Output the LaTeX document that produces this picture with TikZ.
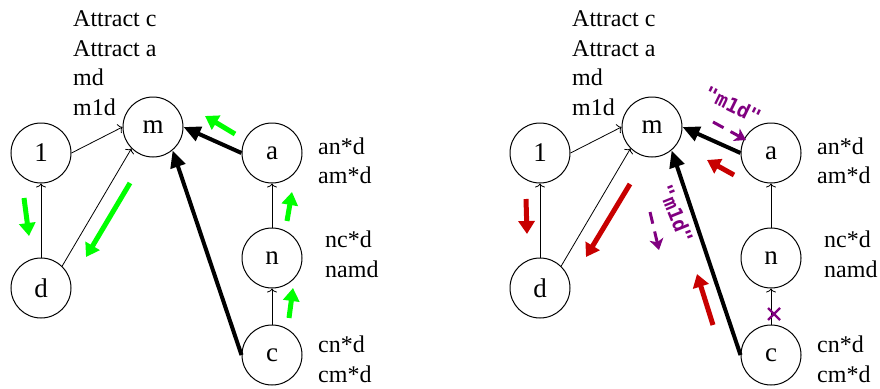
\documentclass[tikz,border=0pt]{standalone}
\usepackage{fontspec}
\setmainfont{Liberation Serif}
\newfontfamily\pmono{DejaVu Sans Mono}
\usetikzlibrary{arrows.meta}
\definecolor{grn}{RGB}{0,255,0}
\definecolor{rd}{RGB}{200,0,0}
\definecolor{purp}{RGB}{128,0,128}
\tikzset{
  state/.style={circle, draw, line width=1pt, minimum size=60pt, inner sep=0pt, font=\fontsize{27}{30}\selectfont},
  sidetxt/.style={anchor=base west, inner sep=0pt, font=\fontsize{24}{28}\selectfont},
  thinarr/.style={line width=0.8pt, -{To[length=4pt,width=10pt]}},
  thickarr/.style={line width=4pt, -{Triangle[length=17pt,width=15pt]}},
  hintarr/.style={line width=5pt, -{Triangle[length=13pt,width=16pt]}},
  plabel/.style={text=purp, inner sep=0pt, font=\pmono\bfseries\fontsize{20}{22}\selectfont},
  parr/.style={purp, line width=3pt, dash pattern=on 12pt off 8pt, -{Stealth[length=11pt,width=14pt,inset=3pt]}},
}
\newcommand\drawpanel[1]{%
  \node[state] (#1one) at (41,153) {1};
  \node[state] (#1m) at (153,127) {m};
  \node[state] (#1a) at (272,153) {a};
  \node[state] (#1d) at (41,288) {d};
  \node[state] (#1n) at (272,258) {n};
  \node[state] (#1c) at (272,355) {c};
  \draw[thinarr] (#1one.east) -- (#1m.west);
  \draw[thinarr] (#1d.46) -- (#1m.225);
  \draw[thinarr] (#1d.north) -- (#1one.south);
  \draw[thinarr] (#1n.north) -- (#1a.south);
  \draw[thinarr] (#1c.north) -- (#1n.south);
  \draw[thickarr] (#1a.west) -- (#1m.east);
  \draw[thickarr] (#1c.west) -- (#1m.-50);
  \node[sidetxt] (#1t1) at (73,26) {Attract c};
  \node[sidetxt] (#1t2) at (73,56) {Attract a};
  \node[sidetxt] (#1t3) at (73,85) {md};
  \node[sidetxt] (#1t4) at (73,115) {m1d};
  \node[sidetxt] (#1a1) at (318,154) {an*d};
  \node[sidetxt] (#1a2) at (318,183) {am*d};
  \node[sidetxt] (#1n1) at (325,247) {nc*d};
  \node[sidetxt] (#1n2) at (325,277) {namd};
  \node[sidetxt] (#1c1) at (318,352) {cn*d};
  \node[sidetxt] (#1c2) at (318,382) {cm*d};
}
\begin{document}
\begin{tikzpicture}[x=1pt,y=-1pt]
\useasboundingbox (0,0) rectangle (880,388);
\begin{scope}
  \drawpanel{L}
\end{scope}
\begin{scope}[xshift=499pt]
  \drawpanel{R}
\end{scope}
% green hint arrows (left panel)
\coordinate (g1s) at (235,134); \coordinate (g1e) at (205,116);
\coordinate (g2s) at (130,183); \coordinate (g2e) at (86,257);
\coordinate (g3s) at (24,198);  \coordinate (g3e) at (29,236);
\coordinate (g4s) at (287,221); \coordinate (g4e) at (292,192);
\coordinate (g5s) at (289,318); \coordinate (g5e) at (293,288);
\draw[hintarr, grn] (g1s) -- (g1e);
\draw[hintarr, grn] (g2s) -- (g2e);
\draw[hintarr, grn] (g3s) -- (g3e);
\draw[hintarr, grn] (g4s) -- (g4e);
\draw[hintarr, grn] (g5s) -- (g5e);
% red hint arrows (right panel)
\coordinate (r1s) at (734,175); \coordinate (r1e) at (707,160);
\coordinate (r2s) at (630,184); \coordinate (r2e) at (586,257);
\coordinate (r3s) at (526,199); \coordinate (r3e) at (527,234);
\coordinate (r4s) at (713,325); \coordinate (r4e) at (697,274);
\draw[hintarr, rd] (r1s) -- (r1e);
\draw[hintarr, rd] (r2s) -- (r2e);
\draw[hintarr, rd] (r3s) -- (r3e);
\draw[hintarr, rd] (r4s) -- (r4e);
% purple annotations
\node[plabel, rotate=-26] (p1) at (733,105) {"m1d"};
\coordinate (p1s) at (713,122); \coordinate (p1e) at (746,140);
\draw[parr] (p1s) -- (p1e);
\node[plabel, rotate=-68] (p2) at (676,214) {"m1d"};
\coordinate (p2s) at (650,212); \coordinate (p2e) at (659,250);
\draw[parr] (p2s) -- (p2e);
\coordinate (xc) at (774,314);
\draw[purp, line width=2.4pt] ([shift={(-6,-6)}]xc) -- ([shift={(6,6)}]xc)
  ([shift={(-6,6)}]xc) -- ([shift={(6,-6)}]xc);
\end{tikzpicture}
\end{document}
